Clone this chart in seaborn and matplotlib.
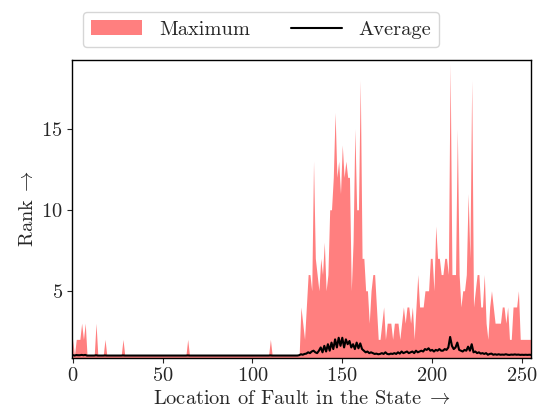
import numpy as np
import matplotlib
matplotlib.use("Agg")
import matplotlib.pyplot as plt
from matplotlib.patches import Patch
from matplotlib.lines import Line2D
import seaborn as sns

# rank of the correct key byte, per fault location (0..255)
max_rank_left = [  # x = 0..124
    2, 1, 2, 2, 2, 3, 2, 3, 1, 1,
    1, 1, 1, 3, 1, 1, 1, 1, 2, 1,
    1, 1, 1, 1, 1, 1, 1, 1, 2, 1,
    1, 1, 1, 1, 1, 1, 1, 1, 1, 1,
    1, 1, 1, 1, 1, 1, 1, 1, 1, 1,
    1, 1, 1, 1, 1, 1, 1, 1, 1, 1,
    1, 1, 1, 1, 2, 1, 1, 1, 1, 1,
    1, 1, 1, 1, 1, 1, 1, 1, 1, 1,
    1, 1, 1, 1, 1, 1, 1, 1, 1, 1,
    1, 1, 1, 1, 1, 1, 1, 1, 1, 1,
    1, 1, 1, 1, 1, 1, 1, 1, 1, 1,
    2, 1, 1, 1, 1, 1, 1, 1, 1, 1,
    1, 1, 1, 1, 1,
]
max_rank_right = [  # x = 125..255
    1, 1, 4, 3, 2, 4, 6, 6, 5, 13,
    7, 6, 5, 7, 6, 8, 5, 6, 10, 10,
    12, 16, 12, 13, 11, 14, 12, 13, 12, 12,
    5, 8, 15, 10, 10, 18, 7, 7, 5, 5,
    3, 5, 6, 6, 4, 2, 2, 3, 4, 2,
    3, 3, 3, 2, 3, 3, 3, 2, 3, 4,
    3, 4, 4, 3, 4, 2, 4, 6, 4, 4,
    4, 5, 5, 5, 7, 7, 5, 9, 7, 7,
    6, 6, 7, 7, 6, 19, 6, 6, 6, 15,
    6, 4, 5, 5, 6, 11, 7, 18, 4, 5,
    6, 6, 4, 4, 6, 3, 2, 4, 5, 4,
    3, 3, 3, 3, 4, 4, 3, 4, 2, 2,
    4, 4, 4, 5, 2, 2, 2, 2, 2, 2,
    2,
]
avg_rank_left = [  # x = 0..124
    1.03, 1.0, 1.03, 1.02, 1.02, 1.04, 1.02, 1.04, 1.0, 1.0,
    1.0, 1.0, 1.0, 1.02, 1.0, 1.0, 1.0, 1.0, 1.01, 1.0,
    1.0, 1.0, 1.0, 1.0, 1.0, 1.0, 1.0, 1.0, 1.01, 1.0,
    1.0, 1.0, 1.0, 1.0, 1.0, 1.0, 1.0, 1.0, 1.0, 1.0,
    1.0, 1.0, 1.0, 1.0, 1.0, 1.0, 1.0, 1.0, 1.0, 1.0,
    1.0, 1.0, 1.0, 1.0, 1.0, 1.0, 1.0, 1.0, 1.0, 1.0,
    1.0, 1.0, 1.0, 1.0, 1.01, 1.0, 1.0, 1.0, 1.0, 1.0,
    1.0, 1.0, 1.0, 1.0, 1.0, 1.0, 1.0, 1.0, 1.0, 1.0,
    1.0, 1.0, 1.0, 1.0, 1.0, 1.0, 1.0, 1.0, 1.0, 1.0,
    1.0, 1.0, 1.0, 1.0, 1.0, 1.0, 1.0, 1.0, 1.0, 1.0,
    1.0, 1.0, 1.0, 1.0, 1.0, 1.0, 1.0, 1.0, 1.0, 1.0,
    1.01, 1.0, 1.0, 1.0, 1.0, 1.0, 1.0, 1.0, 1.0, 1.0,
    1.0, 1.0, 1.0, 1.0, 1.0,
]
avg_rank_right = [  # x = 125..255
    1.0, 1.02, 1.08, 1.05, 1.1, 1.12, 1.2, 1.15, 1.25, 1.3,
    1.2, 1.15, 1.3, 1.5, 1.2, 1.6, 1.25, 1.7, 1.3, 1.8,
    1.4, 2.0, 1.5, 2.1, 1.6, 2.1, 1.5, 2.0, 1.7, 1.9,
    1.5, 1.7, 1.4, 1.8, 1.45, 1.75, 1.4, 1.3, 1.2, 1.25,
    1.15, 1.2, 1.15, 1.1, 1.12, 1.08, 1.1, 1.15, 1.1, 1.2,
    1.1, 1.08, 1.12, 1.1, 1.15, 1.1, 1.2, 1.12, 1.25, 1.15,
    1.2, 1.25, 1.15, 1.2, 1.25, 1.15, 1.3, 1.2, 1.25, 1.3,
    1.25, 1.4, 1.35, 1.45, 1.3, 1.35, 1.25, 1.35, 1.3, 1.4,
    1.3, 1.3, 1.4, 1.35, 1.5, 2.15, 1.6, 1.4, 1.5, 1.8,
    1.35, 1.3, 1.25, 1.35, 1.3, 1.55, 1.3, 1.7, 1.2, 1.25,
    1.15, 1.2, 1.12, 1.15, 1.1, 1.15, 1.05, 1.1, 1.12, 1.05,
    1.08, 1.05, 1.08, 1.05, 1.06, 1.05, 1.08, 1.05, 1.04, 1.06,
    1.05, 1.07, 1.05, 1.06, 1.04, 1.05, 1.04, 1.05, 1.04, 1.05,
    1.04,
]

max_rank = np.array(max_rank_left + max_rank_right)
avg_rank = np.array(avg_rank_left + avg_rank_right)
location = np.arange(len(max_rank))

sns.set_style("ticks")
plt.rcParams["font.family"] = "serif"
plt.rcParams["font.serif"] = ["cmr10"]
plt.rcParams["mathtext.fontset"] = "cm"
plt.rcParams["axes.formatter.use_mathtext"] = True
plt.rcParams["axes.unicode_minus"] = False

fs = 14.7
fig = plt.figure(figsize=(5.52, 4.19), dpi=100)
ax = fig.add_axes([0.130, 0.146, 0.832, 0.711])

ax.fill_between(location, max_rank, color="red", alpha=0.5, lw=0)
sns.lineplot(x=location, y=avg_rank, color="black", lw=1.5, ax=ax)

ax.set_xlim(-0.5, 255)
ax.set_ylim(0.86, 19.25)
ax.set_xticks([0, 50, 100, 150, 200, 250])
ax.set_yticks([5, 10, 15])
ax.tick_params(labelsize=fs, direction="out", pad=3)
for s in ax.spines.values():
    s.set_visible(True)
    s.set_linewidth(1.0)
    s.set_color("black")

ax.set_xlabel(r"Location of Fault in the State$\;\rightarrow$", fontsize=fs, labelpad=4)
ax.set_ylabel(r"Rank$\;\rightarrow$", fontsize=fs, labelpad=3)

handles = [Patch(facecolor="red", alpha=0.5, edgecolor="none"),
           Line2D([0], [0], color="black", lw=1.5)]
fig.legend(handles, ["Maximum", "Average"], loc="upper center",
           bbox_to_anchor=(0.473, 0.995), ncol=2, fontsize=fs,
           frameon=True, fancybox=True, edgecolor="#cccccc",
           handlelength=2.5, columnspacing=2.0)

fig.savefig("out.png", dpi=100)
